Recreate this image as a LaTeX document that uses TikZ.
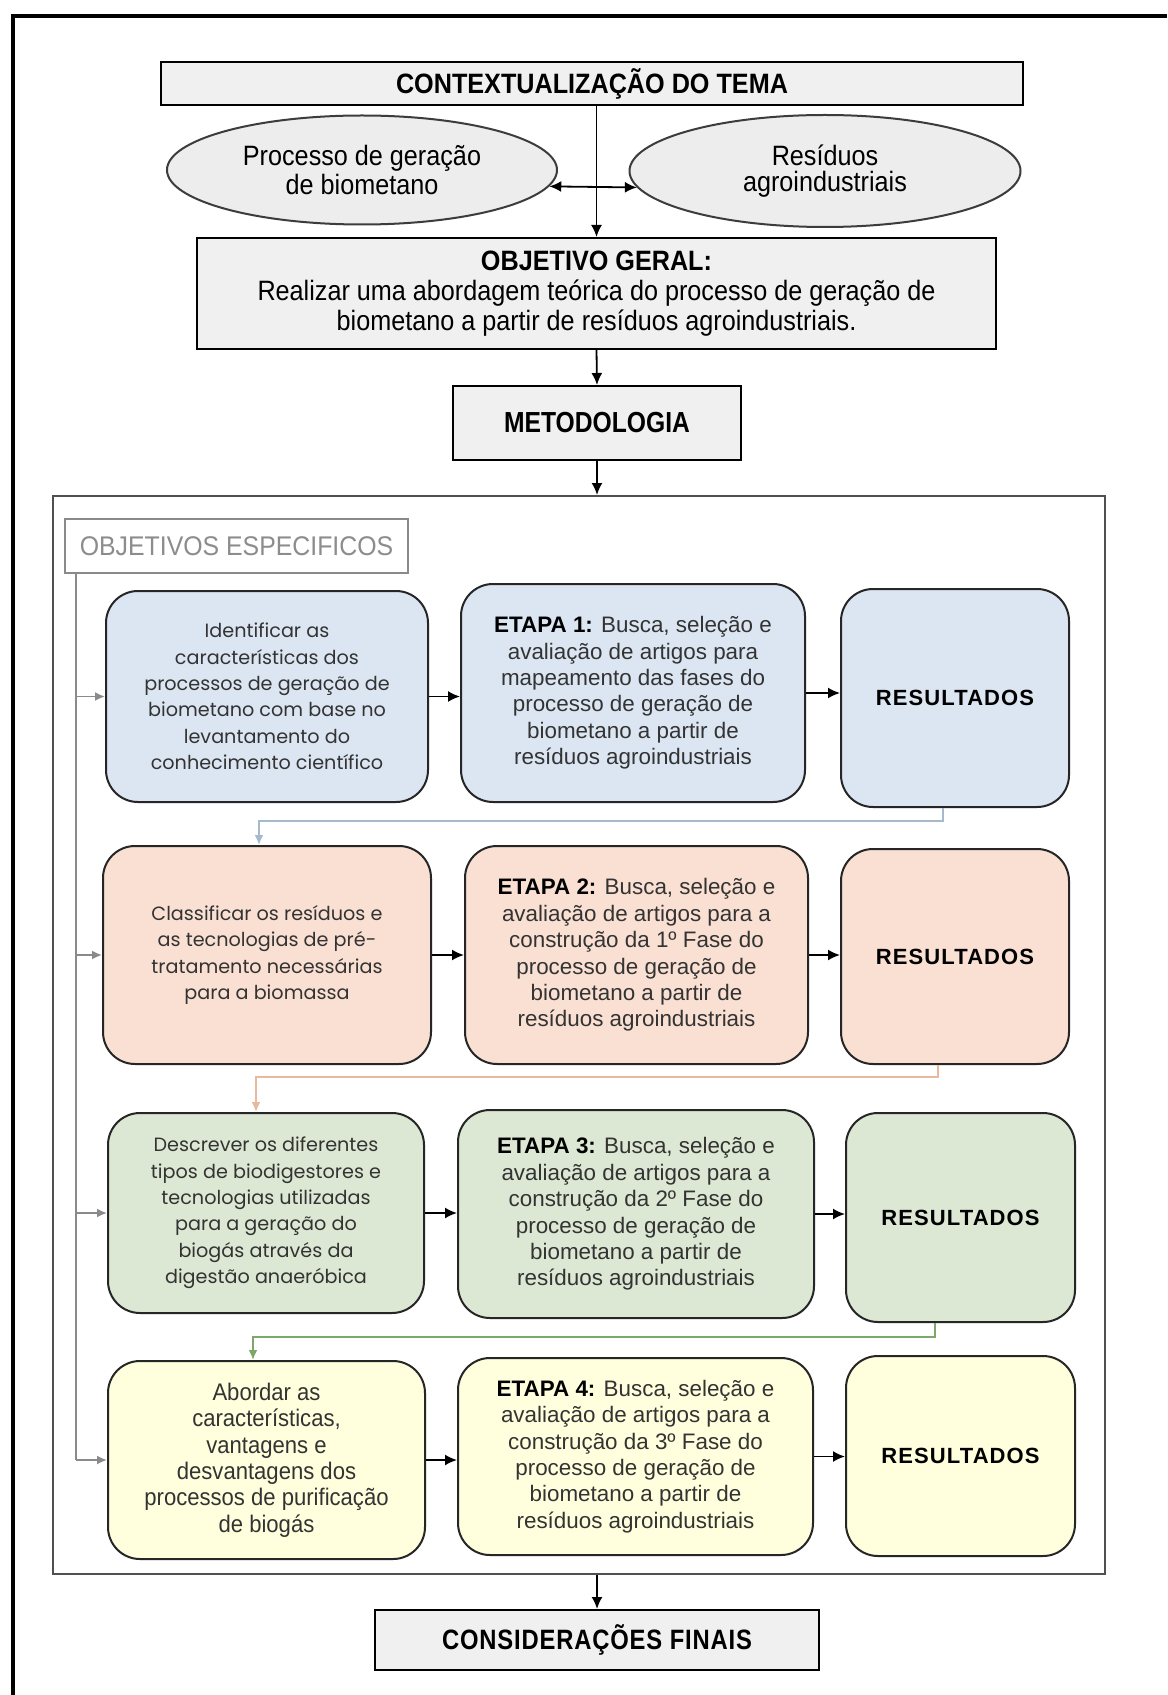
\documentclass[tikz,border=0pt]{standalone}
\usepackage{fontspec}
\setmainfont{Liberation Sans}
\newfontfamily\narrowfont[FakeStretch=0.85]{Liberation Sans}
\newfontfamily\midfont[FakeStretch=0.9]{Liberation Sans}
\newfontfamily\stagefont[FakeStretch=0.92]{Liberation Sans}
\newfontfamily\narrowspaced[FakeStretch=0.85,LetterSpace=3]{Liberation Sans}
\newfontfamily\spacedfont[LetterSpace=5]{Liberation Sans}
\newfontfamily\roundfont{Poppins}
\usetikzlibrary{arrows.meta,shapes.geometric}

\definecolor{boxgray}{HTML}{F0F0F0}
\definecolor{ovalfill}{HTML}{EDEDED}
\definecolor{ovalline}{HTML}{3C3C3C}
\definecolor{framegray}{HTML}{505050}
\definecolor{oegray}{HTML}{8A8A8A}
\definecolor{oetext}{HTML}{8C8C8C}
\definecolor{spinegray}{HTML}{8A8A8A}
\definecolor{bodytext}{HTML}{333333}
\definecolor{blueF}{HTML}{DCE6F2}
\definecolor{peachF}{HTML}{F9E0D3}
\definecolor{greenF}{HTML}{DCE8D3}
\definecolor{yellowF}{HTML}{FFFFDD}
\definecolor{blueL}{HTML}{A6BACD}
\definecolor{peachL}{HTML}{E8B99C}
\definecolor{greenL}{HTML}{7EA86A}

\begin{document}
\begin{tikzpicture}[x=0.5pt,y=-0.5pt,
  graybox/.style={draw=black, line width=1pt, fill=boxgray, align=center,
    inner sep=2pt, font=\midfont\fontsize{14}{15}\selectfont},
  oval/.style={ellipse, draw=ovalline, line width=1pt, fill=ovalfill, align=center,
    inner sep=0pt, font=\midfont\fontsize{14}{13}\selectfont},
  card/.style={rounded corners=16pt, draw=black!85, line width=1pt, align=center,
    inner sep=2pt, text=bodytext},
  goal/.style={card, font=\roundfont\fontsize{9.6}{13.2}\selectfont},
  goalb/.style={card, font=\stagefont\fontsize{12}{13.2}\selectfont},
  stage/.style={card, font=\fontsize{11.2}{13.2}\selectfont},
  result/.style={card, text=black, font=\spacedfont\bfseries\fontsize{11}{13}\selectfont},
  flow/.style={line width=0.9pt, -{Latex[length=6pt,width=5.5pt]}},
  spine/.style={draw=spinegray, line width=0.9pt},
  spinearrow/.style={spine, -{Latex[length=5pt,width=4.5pt]}},
  backlink/.style={line width=1pt, -{Latex[length=5pt,width=4.5pt]}}
]
\useasboundingbox (0,0) rectangle (1167,1695);
\fill[white] (0,0) rectangle (1167,1695);

% open outer frame
\draw[line width=2pt] (13,1695) -- (13,16) -- (1167,16);

% theme and general objective
\node[graybox, font=\midfont\bfseries\fontsize{14}{15}\selectfont,
  minimum width=431pt, minimum height=21.5pt] (ctx) at (592,83.5)
  {CONTEXTUALIZAÇÃO DO TEMA};
\node[oval, minimum width=195pt, minimum height=54.5pt] (le) at (362,170)
  {Processo de geração\\de biometano};
\node[oval, minimum width=195.5pt, minimum height=56pt] (re) at (825,171)
  {Resíduos\\agroindustriais};
\node[graybox, minimum width=399.5pt, minimum height=55.5pt] (obj) at (596.5,293.5)
  {\textbf{OBJETIVO GERAL:}\\Realizar uma abordagem teórica do processo de geração de\\biometano a partir de resíduos agroindustriais.};
\node[graybox, font=\narrowfont\bfseries\fontsize{14.5}{15}\selectfont,
  minimum width=144pt, minimum height=37pt] (met) at (597,423) {METODOLOGIA};

\draw[flow] (ctx.south -| obj.north) -- (obj.north);
\draw[line width=0.9pt, {Latex[length=6pt,width=5.5pt]}-{Latex[length=6pt,width=5.5pt]}]
  (le.-5) -- (re.-175);
\draw[flow] (obj.south) -- (met.north);

% methodology frame
\node[draw=framegray, line width=1pt, minimum width=526pt, minimum height=539pt,
  inner sep=0pt] (frm) at (579,1035) {};
\draw[flow] (met.south) -- (met.south |- frm.north);

\node[draw=oegray, line width=0.9pt, text=oetext, inner sep=0pt,
  font=\stagefont\fontsize{13.5}{14}\selectfont,
  minimum width=171.5pt, minimum height=27pt] (oe) at (236.5,546)
  {OBJETIVOS ESPECIFICOS};

% row 1
\node[goal, fill=blueF, minimum width=161pt, minimum height=105.5pt] (L1) at (267,696.5)
  {Identificar as\\características dos\\processos de geração de\\biometano com base no\\levantamento do\\conhecimento científico};
\node[stage, fill=blueF, minimum width=172pt, minimum height=109pt] (M1) at (633,693)
  {\textcolor{black}{\bfseries ETAPA 1:} Busca, seleção e\\avaliação de artigos para\\mapeamento das fases do\\processo de geração de\\biometano a partir de\\resíduos agroindustriais};
\node[result, fill=blueF, minimum width=114pt, minimum height=109pt] (R1) at (955,698)
  {RESULTADOS};

% row 2
\node[goal, fill=peachF, minimum width=164pt, minimum height=109pt] (L2) at (267,955)
  {Classificar os resíduos e\\as tecnologias de pré-\\tratamento necessárias\\para a biomassa};
\node[stage, fill=peachF, minimum width=171.5pt, minimum height=109pt] (M2) at (636.5,955)
  {\textcolor{black}{\bfseries ETAPA 2:} Busca, seleção e\\avaliação de artigos para a\\construção da 1º Fase do\\processo de geração de\\biometano a partir de\\resíduos agroindustriais};
\node[result, fill=peachF, minimum width=114pt, minimum height=107.5pt] (R2) at (955,956.5)
  {RESULTADOS};

% row 3
\node[goal, fill=greenF, minimum width=158pt, minimum height=100pt] (L3) at (266,1213)
  {Descrever os diferentes\\tipos de biodigestores e\\tecnologias utilizadas\\para a geração do\\biogás através da\\digestão anaeróbica};
\node[stage, fill=greenF, minimum width=178pt, minimum height=104pt] (M3) at (636,1214)
  {\textcolor{black}{\bfseries ETAPA 3:} Busca, seleção e\\avaliação de artigos para a\\construção da 2º Fase do\\processo de geração de\\biometano a partir de\\resíduos agroindustriais};
\node[result, fill=greenF, minimum width=114.5pt, minimum height=104.5pt] (R3) at (960.5,1217.5)
  {RESULTADOS};

% row 4
\node[goalb, fill=yellowF, minimum width=158.5pt, minimum height=99pt] (L4) at (266.5,1460)
  {Abordar as\\características,\\vantagens e\\desvantagens dos\\processos de purificação\\de biogás};
\node[stage, fill=yellowF, minimum width=177.5pt, minimum height=98.5pt] (M4) at (635.5,1456.5)
  {\textcolor{black}{\bfseries ETAPA 4:} Busca, seleção e\\avaliação de artigos para a\\construção da 3º Fase do\\processo de geração de\\biometano a partir de\\resíduos agroindustriais};
\node[result, fill=yellowF, minimum width=114.5pt, minimum height=100pt] (R4) at (960.5,1456)
  {RESULTADOS};

% arrows inside each row
\foreach \r in {1,2,3,4}{
  \draw[flow] (L\r.east) -- (L\r.east -| M\r.west);
  \draw[flow] (M\r.east) -- (M\r.east -| R\r.west);
}

% left spine feeding every objective
\coordinate (sp) at (76,0);
\draw[spine] (oe.south -| sp) -- (L4.west -| sp);
\foreach \r in {1,2,3,4}{
  \draw[spinearrow] (L\r.west -| sp) -- (L\r.west);
}

% links from each result to the next objective
\coordinate (k1) at (943,821);
\coordinate (k2) at (938,1077);
\coordinate (k3) at (935,1337);
\draw[backlink, blueL] (R1.south -| k1) |- (k1 -| 259,0) -- (L2.north -| 259,0);
\draw[backlink, peachL] (R2.south -| k2) |- (k2 -| 256,0) -- (L3.north -| 256,0);
\draw[backlink, greenL] (R3.south -| k3) |- (k3 -| 253,0) -- (L4.north -| 253,0);

% closing step
\node[graybox, font=\narrowspaced\bfseries\fontsize{14}{15}\selectfont,
  minimum width=222pt, minimum height=30pt] (fin) at (597,1640)
  {CONSIDERAÇÕES FINAIS};
\draw[flow] (fin.north |- frm.south) -- (fin.north);
\end{tikzpicture}
\end{document}
